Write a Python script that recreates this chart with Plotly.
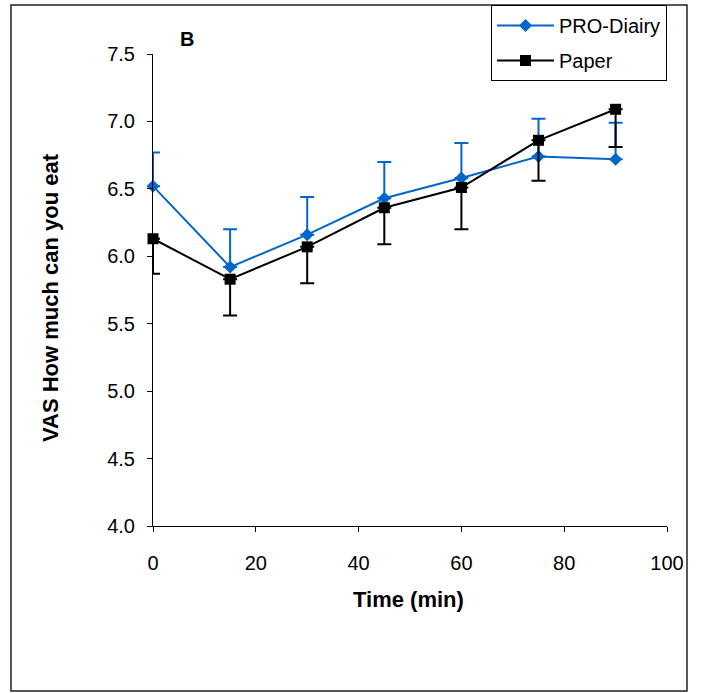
import plotly.graph_objects as go

# Data
time_min = [0, 15, 30, 45, 60, 75, 90]
pro_diairy = [6.52, 5.92, 6.16, 6.43, 6.58, 6.74, 6.72]
pro_diairy_err_up = [0.25, 0.28, 0.28, 0.27, 0.26, 0.28, 0.27]
paper = [6.13, 5.83, 6.07, 6.36, 6.51, 6.86, 7.09]
paper_err_down = [0.26, 0.27, 0.27, 0.27, 0.31, 0.30, 0.28]
zeros = [0] * len(time_min)

x_ticks = [0, 20, 40, 60, 80, 100]
y_ticks = [4.0, 4.5, 5.0, 5.5, 6.0, 6.5, 7.0, 7.5]

BLUE = "#0066CC"
FONT = "Liberation Sans, Arial, sans-serif"

fig = go.Figure()
fig.add_trace(go.Scatter(
    x=time_min, y=pro_diairy, name="PRO-Diairy", mode="lines+markers",
    legendgroup="a", cliponaxis=False,
    line=dict(color=BLUE, width=2),
    marker=dict(symbol="diamond", size=10, color=BLUE),
    error_y=dict(type="data", symmetric=False, array=pro_diairy_err_up,
                 arrayminus=zeros, color=BLUE, thickness=2, width=7),
))
fig.add_trace(go.Scatter(
    x=time_min, y=paper, name="Paper", mode="lines+markers",
    legendgroup="b", cliponaxis=False,
    line=dict(color="black", width=2),
    marker=dict(symbol="square", size=11, color="black"),
    error_y=dict(type="data", symmetric=False, array=zeros,
                 arrayminus=paper_err_down, color="black", thickness=2, width=7),
))

fig.update_layout(
    width=702, height=693,
    margin=dict(l=153, r=35, t=54, b=167, autoexpand=False),
    paper_bgcolor="white", plot_bgcolor="white",
    font=dict(family=FONT, size=20, color="black"),
    showlegend=True,
    legend=dict(
        xref="container", yref="container",
        x=491 / 702, y=1 - 5 / 693, xanchor="left", yanchor="top",
        bgcolor="white", bordercolor="black", borderwidth=1,
        font=dict(family=FONT, size=20, color="black"),
        traceorder="grouped", tracegroupgap=6, itemwidth=57,
    ),
    xaxis=dict(
        range=[0, 100], tickvals=x_ticks, ticktext=[str(v) for v in x_ticks],
        showline=True, linecolor="black", linewidth=1,
        ticks="outside", ticklen=5, tickcolor="black",
        showgrid=False, zeroline=False, ticklabelstandoff=14,
        tickfont=dict(family=FONT, size=20),
    ),
    yaxis=dict(
        range=[4.0, 7.5], tickvals=y_ticks, ticktext=[f"{v:.1f}" for v in y_ticks],
        showline=True, linecolor="black", linewidth=1,
        ticks="outside", ticklen=5, tickcolor="black",
        showgrid=False, zeroline=False, ticklabelstandoff=8,
        tickfont=dict(family=FONT, size=20),
    ),
    shapes=[dict(
        type="rect", xref="paper", yref="paper",
        x0=-0.2763, x1=1.0389, y0=-0.3496, y1=1.1038,
        line=dict(color="#222222", width=1.5), fillcolor="rgba(0,0,0,0)",
        layer="below",
    )],
    annotations=[
        dict(text="<b>VAS How much can you eat</b>", textangle=-90,
             xref="paper", yref="paper", x=-0.2005, y=0.485,
             xanchor="center", yanchor="middle", showarrow=False,
             font=dict(family=FONT, size=22, color="black")),
        dict(text="<b>Time (min)</b>",
             xref="paper", yref="paper", x=0.498, y=-0.1547,
             xanchor="center", yanchor="middle", showarrow=False,
             font=dict(family=FONT, size=22, color="black")),
        dict(text="<b>B</b>",
             xref="paper", yref="paper", x=0.066, y=1.0318,
             xanchor="center", yanchor="middle", showarrow=False,
             font=dict(family=FONT, size=20, color="black")),
    ],
)

fig.write_html(
    "out.html",
    config={"displayModeBar": False},
    post_script="document.body.style.margin='0';document.body.style.overflow='hidden';",
)
